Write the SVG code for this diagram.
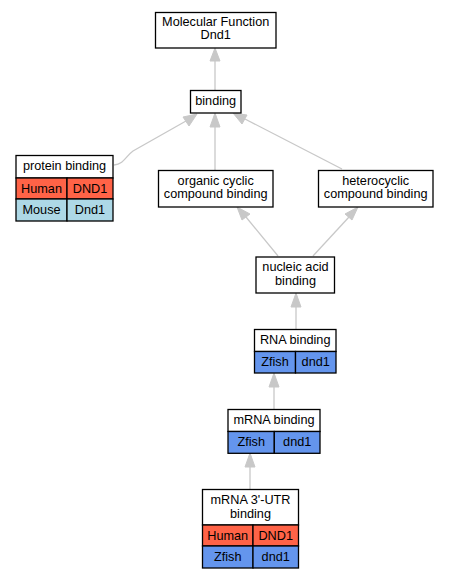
<svg xmlns="http://www.w3.org/2000/svg" width="449" height="579" viewBox="0 0 449 579">
<defs>
<style>
text{font-family:"Liberation Sans",Arial,sans-serif;font-size:12.7px;fill:#000;text-anchor:middle}
.box{fill:#fff;stroke:#000;stroke-width:1.3}
.hu{fill:#ff6347;stroke:#000;stroke-width:1.3}
.mo{fill:#add8e6;stroke:#000;stroke-width:1.3}
.zf{fill:#6495ed;stroke:#000;stroke-width:1.3}
.e{fill:none;stroke:#c8c8c8;stroke-width:1.3}
.ah{fill:#c8c8c8;stroke:#c8c8c8}
</style>
</defs>
<rect width="449" height="579" fill="#fff"/>
<g id="edges">
<path class="e" d="M215,90 L215,61"/>
<polygon class="ah" points="215,48 210,61 220,61"/>
<path class="e" d="M114,165 C124,164 126,156 133,151 L186,121"/>
<polygon class="ah" points="197,114 183,117 189,126"/>
<path class="e" d="M215,170 L215,127"/>
<polygon class="ah" points="215,113 210,127 220,127"/>
<path class="e" d="M342,169 L245,119"/>
<polygon class="ah" points="233,113 242,124 247,115"/>
<path class="e" d="M278,256 L246,217"/>
<polygon class="ah" points="237,207 242,220 250,214"/>
<path class="e" d="M313,256 L349,217"/>
<polygon class="ah" points="358,207 345,214 352,220"/>
<path class="e" d="M296,329 L296,307"/>
<polygon class="ah" points="296,293 291,307 301,307"/>
<path class="e" d="M274,409 L274,387"/>
<polygon class="ah" points="274,373 269,387 279,387"/>
<path class="e" d="M250,489 L250,467"/>
<polygon class="ah" points="250,453 245,467 255,467"/>
</g>
<g id="mf">
<rect class="box" x="155.5" y="12.5" width="120.5" height="35.5"/>
<text x="215.7" y="26">Molecular Function</text>
<text x="215.7" y="39">Dnd1</text>
</g>
<g id="binding">
<rect class="box" x="190.5" y="90.5" width="50.5" height="22.5"/>
<text x="215.7" y="105">binding</text>
</g>
<g id="protein">
<rect class="box" x="16" y="155.5" width="97" height="22.5"/>
<text x="64.5" y="170">protein binding</text>
<rect class="hu" x="16" y="178" width="51" height="21"/>
<rect class="hu" x="67" y="178" width="46" height="21"/>
<text x="41.5" y="193">Human</text>
<text x="90" y="193">DND1</text>
<rect class="mo" x="16" y="199" width="51" height="22"/>
<rect class="mo" x="67" y="199" width="46" height="22"/>
<text x="41.5" y="214">Mouse</text>
<text x="90" y="214">Dnd1</text>
</g>
<g id="organic">
<rect class="box" x="158.5" y="170.5" width="114.5" height="36.5"/>
<text x="215.7" y="185">organic cyclic</text>
<text x="215.7" y="198">compound binding</text>
</g>
<g id="hetero">
<rect class="box" x="318.5" y="170.5" width="114.5" height="36.5"/>
<text x="375.7" y="185">heterocyclic</text>
<text x="375.7" y="198">compound binding</text>
</g>
<g id="nucleic">
<rect class="box" x="256" y="257" width="78.5" height="36"/>
<text x="295.5" y="271">nucleic acid</text>
<text x="295.5" y="285">binding</text>
</g>
<g id="rna">
<rect class="box" x="254.5" y="329.5" width="81.5" height="22"/>
<text x="295.2" y="344">RNA binding</text>
<rect class="zf" x="254.5" y="351.5" width="41" height="21.5"/>
<rect class="zf" x="295.5" y="351.5" width="40.5" height="21.5"/>
<text x="275" y="366">Zfish</text>
<text x="315.7" y="366">dnd1</text>
</g>
<g id="mrna">
<rect class="box" x="228" y="409.5" width="92" height="22"/>
<text x="274" y="424">mRNA binding</text>
<rect class="zf" x="228" y="431.5" width="46.3" height="21.8"/>
<rect class="zf" x="274.3" y="431.5" width="45.7" height="21.8"/>
<text x="251.2" y="446">Zfish</text>
<text x="297.2" y="446">dnd1</text>
</g>
<g id="utr">
<rect class="box" x="202.5" y="489.5" width="96" height="35.5"/>
<text x="250.5" y="504">mRNA 3'-UTR</text>
<text x="250.5" y="518">binding</text>
<rect class="hu" x="202.5" y="525" width="50.5" height="21"/>
<rect class="hu" x="253" y="525" width="45.5" height="21"/>
<text x="227.7" y="540">Human</text>
<text x="275.7" y="540">DND1</text>
<rect class="zf" x="202.5" y="546" width="50.5" height="22"/>
<rect class="zf" x="253" y="546" width="45.5" height="22"/>
<text x="227.7" y="561">Zfish</text>
<text x="275.7" y="561">dnd1</text>
</g>
</svg>
